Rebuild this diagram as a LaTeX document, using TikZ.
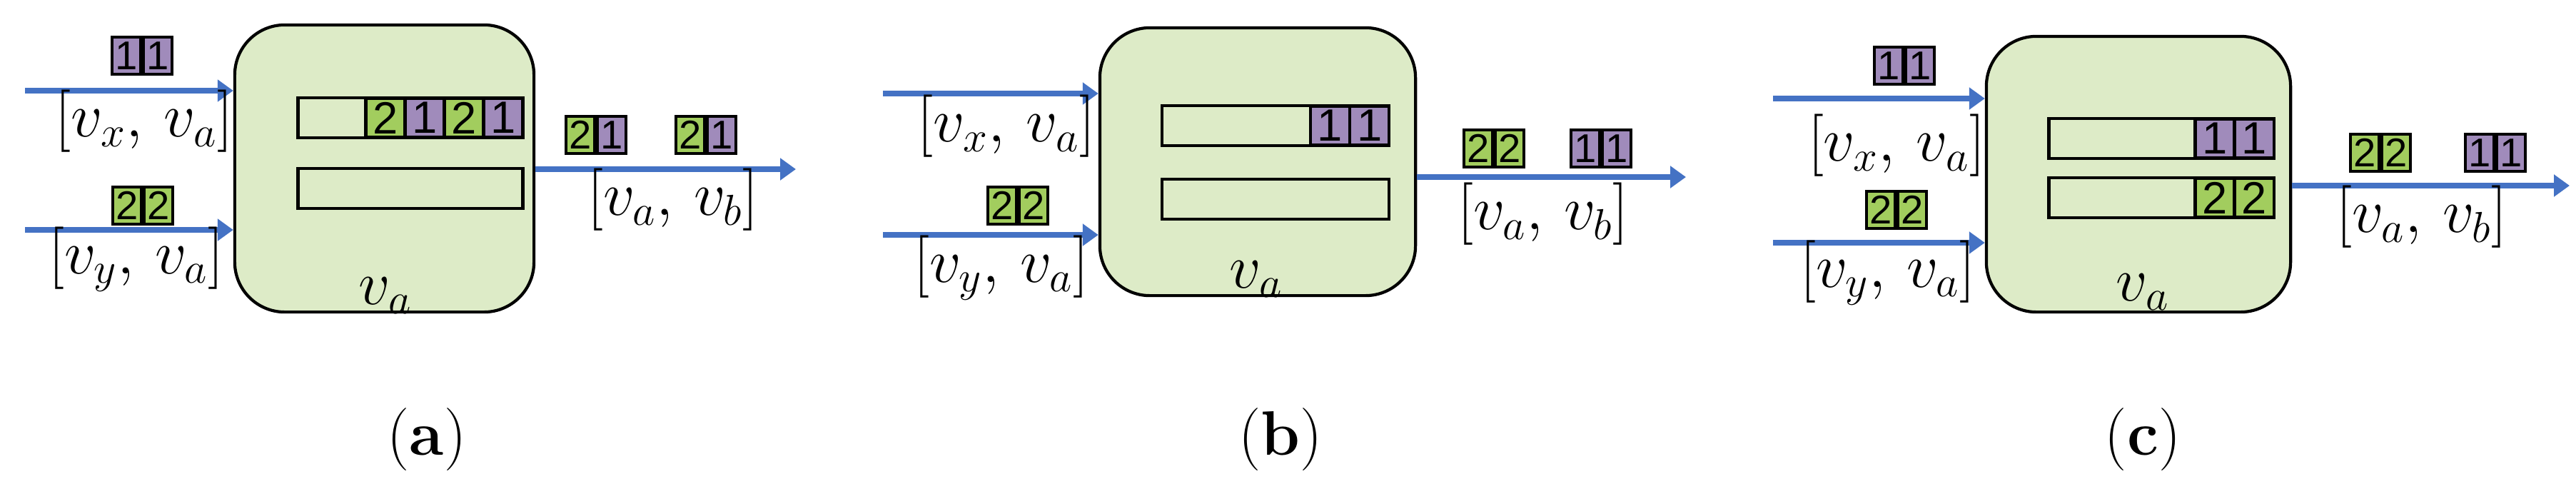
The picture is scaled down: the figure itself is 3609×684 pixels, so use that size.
\documentclass[tikz,border=0pt]{standalone}
\usepackage{fontspec}
\newfontfamily\cellfont{Liberation Sans}
\usetikzlibrary{arrows.meta}
\definecolor{lgreen}{HTML}{DDEBC7}
\definecolor{cgreen}{HTML}{A2CD5E}
\definecolor{cpurple}{HTML}{A08BBB}
\definecolor{ablue}{HTML}{4472C4}
\tikzset{
  vbox/.style={draw, line width=1.2pt, fill=lgreen, rounded corners=0.7cm},
  cell/.style={draw, line width=1.2pt, minimum width=0.4cm, minimum height=0.52cm, inner sep=0pt, font=\cellfont\fontsize{16}{16}\selectfont},
  bcell/.style={draw, line width=1.2pt, minimum width=0.55cm, minimum height=0.55cm, inner sep=0pt, font=\cellfont\fontsize{18}{18}\selectfont},
  buf/.style={draw, line width=1.2pt, minimum width=3.15cm, minimum height=0.56cm, inner sep=0pt},
  lab/.style={font=\fontsize{25}{30}\selectfont},
  flow/.style={ablue, line width=2.4pt, -{Triangle[length=0.22cm,width=0.3cm]}}
}
% two-cell token: name, x, y, colour/num left, colour/num right
\newcommand{\tkn}[7]{
\node[cell, fill=#4, anchor=east] (#1l) at (#2,#3) {#5};
\node[cell, fill=#6, anchor=west] (#1r) at (#2,#3) {#7};
}
% buffer cell right aligned in buffer: name, buffer, offset, colour, num
\newcommand{\bcl}[5]{
\node[bcell, fill=#4, anchor=east] (#1) at ([xshift=-#3 cm]#2.east) {#5};
}
\begin{document}
\begin{tikzpicture}[x=0.01cm, y=-0.01cm]
\useasboundingbox (0,0) rectangle (3609,684);

% (a)
\node[vbox, minimum width=4.19cm, minimum height=4.02cm] (va) at (538.5,236) {};
\node[lab] (vala) at (540,414) {$v_a$};
\coordinate (ain1) at (35,127);
\coordinate (ain2) at (35,322);
\draw[flow] (ain1) -- (ain1 -| va.west);
\draw[flow] (ain2) -- (ain2 -| va.west);
\tkn{ax}{199}{78}{cpurple}{1}{cpurple}{1}
\node[lab] (axl) at (202,170) {$[v_x,\, v_a]$};
\tkn{ay}{200}{288}{cgreen}{2}{cgreen}{2}
\node[lab] (ayl) at (191,363) {$[v_y,\, v_a]$};
\node[buf, fill=lgreen] (ab1) at (575,165) {};
\node[buf, fill=lgreen] (ab2) at (575,264) {};
\bcl{ab1a}{ab1}{0}{cpurple}{1}
\bcl{ab1b}{ab1}{0.55}{cgreen}{2}
\bcl{ab1c}{ab1}{1.1}{cpurple}{1}
\bcl{ab1d}{ab1}{1.65}{cgreen}{2}
\coordinate (aout) at (1115,237);
\draw[flow] (aout -| va.east) -- (aout);
\tkn{ao1}{835}{189}{cgreen}{2}{cpurple}{1}
\tkn{ao2}{989}{189}{cgreen}{2}{cpurple}{1}
\node[lab] (aol) at (943,280) {$[v_a,\, v_b]$};
\node[lab] (capa) at (598,616) {(\textbf{a})};

% (b)
\node[vbox, minimum width=4.42cm, minimum height=3.75cm] (vb) at (1762,226.5) {};
\node[lab] (valb) at (1760,391) {$v_a$};
\coordinate (bin1) at (1237,131);
\coordinate (bin2) at (1237,329);
\draw[flow] (bin1) -- (bin1 -| vb.west);
\draw[flow] (bin2) -- (bin2 -| vb.west);
\node[lab] (bxl) at (1410,177) {$[v_x,\, v_a]$};
\tkn{by}{1426}{288}{cgreen}{2}{cgreen}{2}
\node[lab] (byl) at (1403,375) {$[v_y,\, v_a]$};
\node[buf, minimum width=3.18cm, fill=lgreen] (bb1) at (1787,176) {};
\node[buf, minimum width=3.18cm, fill=lgreen] (bb2) at (1787,279) {};
\bcl{bb1a}{bb1}{0}{cpurple}{1}
\bcl{bb1b}{bb1}{0.55}{cpurple}{1}
\coordinate (bout) at (2362,248);
\draw[flow] (bout -| vb.east) -- (bout);
\tkn{bo1}{2093}{208}{cgreen}{2}{cgreen}{2}
\tkn{bo2}{2243}{208}{cpurple}{1}{cpurple}{1}
\node[lab] (bol) at (2162,300) {$[v_a,\, v_b]$};
\node[lab] (capb) at (1794,616) {(\textbf{b})};

% (c)
\node[vbox, minimum width=4.26cm, minimum height=3.86cm] (vc) at (2996,244) {};
\node[lab] (valc) at (3002,409) {$v_a$};
\coordinate (cin1) at (2484,138);
\coordinate (cin2) at (2484,340);
\draw[flow] (cin1) -- (cin1 -| vc.west);
\draw[flow] (cin2) -- (cin2 -| vc.west);
\tkn{cx}{2668}{92}{cpurple}{1}{cpurple}{1}
\node[lab] (cxl) at (2657,204) {$[v_x,\, v_a]$};
\tkn{cy}{2657}{294}{cgreen}{2}{cgreen}{2}
\node[lab] (cyl) at (2645,382) {$[v_y,\, v_a]$};
\node[buf, fill=lgreen] (cb1) at (3028,194) {};
\node[buf, fill=lgreen] (cb2) at (3028,277) {};
\bcl{cb1a}{cb1}{0}{cpurple}{1}
\bcl{cb1b}{cb1}{0.55}{cpurple}{1}
\bcl{cb2a}{cb2}{0}{cgreen}{2}
\bcl{cb2b}{cb2}{0.55}{cgreen}{2}
\coordinate (cout) at (3600,260);
\draw[flow] (cout -| vc.east) -- (cout);
\tkn{co1}{3335}{214}{cgreen}{2}{cgreen}{2}
\tkn{co2}{3496}{214}{cpurple}{1}{cpurple}{1}
\node[lab] (col) at (3393,304) {$[v_a,\, v_b]$};
\node[lab] (capc) at (3002,616) {(\textbf{c})};
\end{tikzpicture}
\end{document}
